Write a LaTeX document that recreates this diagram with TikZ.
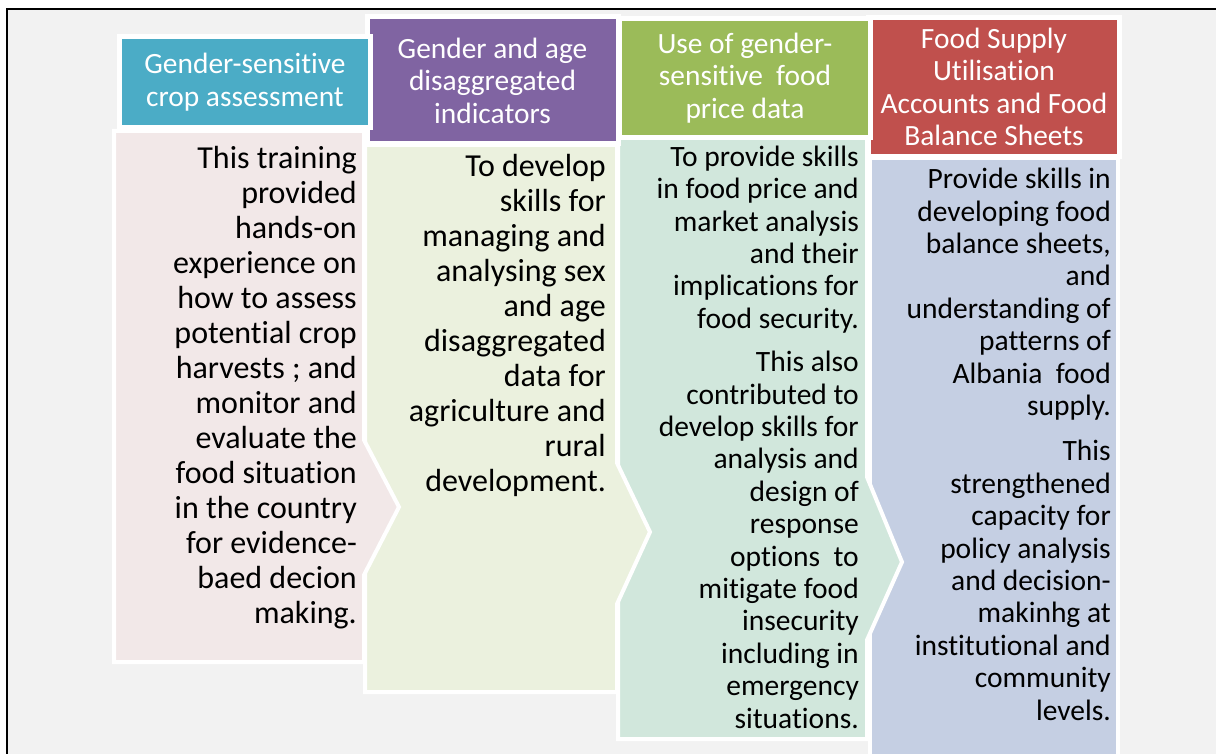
\documentclass[tikz,border=0pt]{standalone}
\usepackage{fontspec}
\setmainfont[Ligatures=NoCommon]{Carlito}
\definecolor{bgGrey}{HTML}{F2F2F2}
\definecolor{hdTeal}{HTML}{4BACC6}
\definecolor{hdPurple}{HTML}{8064A2}
\definecolor{hdGreen}{HTML}{9BBB59}
\definecolor{hdRed}{HTML}{C0504D}
\definecolor{bdPink}{HTML}{F2E8E8}
\definecolor{bdOlive}{HTML}{EBF1DE}
\definecolor{bdMint}{HTML}{D1E7DC}
\definecolor{bdBlue}{HTML}{C5CFE3}

\begin{document}
\begin{tikzpicture}[
  x=1pt, y=-1pt,
  head/.style={draw=white,line width=5pt,minimum width=251pt,inner sep=0pt,text=white,align=center,font=\fontsize{29.4}{32.5}\selectfont},
  body/.style={draw=white,line width=4pt},
  txt/.style={anchor=base east,inner sep=0pt,align=right,font=\fontsize{32}{35}\selectfont},
  txts/.style={txt,font=\fontsize{29.5}{32.4}\selectfont}
]
\useasboundingbox (0,0) rectangle (1216,754);
\clip (0,0) rectangle (1216,754);
\fill[white] (0,0) rectangle (1216,754);
\draw[fill=bgGrey,line width=2pt] (7,9) rectangle (1240,780);

% bodies, right to left so each point lies over its neighbour
\draw[body,fill=bdBlue] (870,158) -- (1118,158) -- (1118,780) -- (870,780) -- cycle;
\draw[body,fill=bdMint] (618,138) -- (867,138) -- (867,477) -- (902,562) -- (867,640) -- (867,739) -- (618,739) -- cycle;
\draw[body,fill=bdOlive] (365,145) -- (617,145) -- (617,463) -- (650,532) -- (617,604) -- (617,692) -- (365,692) -- cycle;
\draw[body,fill=bdPink] (114,131) -- (364,131) -- (364,440) -- (399,507) -- (364,575) -- (364,662) -- (114,662) -- cycle;

% headers
\node[head,fill=hdRed,minimum height=139pt] (hdFood) at (994,87) {Food Supply\\Utilisation\\Accounts and Food\\Balance Sheets};
\node[head,fill=hdGreen,minimum height=119pt] (hdPrice) at (745,78) {Use of gender-\\sensitive\ \ food\\price data};
\node[head,fill=hdPurple,minimum height=127pt] (hdAge) at (492.5,80.5) {Gender and age\\disaggregated\\indicators};
\node[head,fill=hdTeal,minimum height=91pt] (hdCrop) at (245,82) {Gender-sensitive\\crop assessment};

% texts (anchored on the baseline of their last line)
\node[txt] (txCrop) at (357,623) {This training\\provided\\hands-on\\experience on\\how to assess\\potential crop\\harvests ; and\\monitor and\\evaluate the\\food situation\\in the country\\for evidence-\\baed decion\\making.};
\node[txt] (txAge) at (606,491) {To develop\\skills for\\managing and\\analysing sex\\and age\\disaggregated\\data for\\agriculture and\\rural\\development.};
\node[txts] (txPrice) at (859,728) {To provide skills\\in food price and\\market analysis\\and their\\implications for\\food security.\\[11pt]This also\\contributed to\\develop skills for\\analysis and\\design of\\response\\options\ \ to\\mitigate food\\insecurity\\including in\\emergency\\situations.};
\node[txts] (txFood) at (1111,720) {Provide skills in\\developing food\\balance sheets,\\and\\understanding of\\patterns of\\Albania\ \ food\\supply.\\[13pt]This\\strengthened\\capacity for\\policy analysis\\and decision-\\makinhg at\\institutional and\\community\\levels.};
\end{tikzpicture}
\end{document}
